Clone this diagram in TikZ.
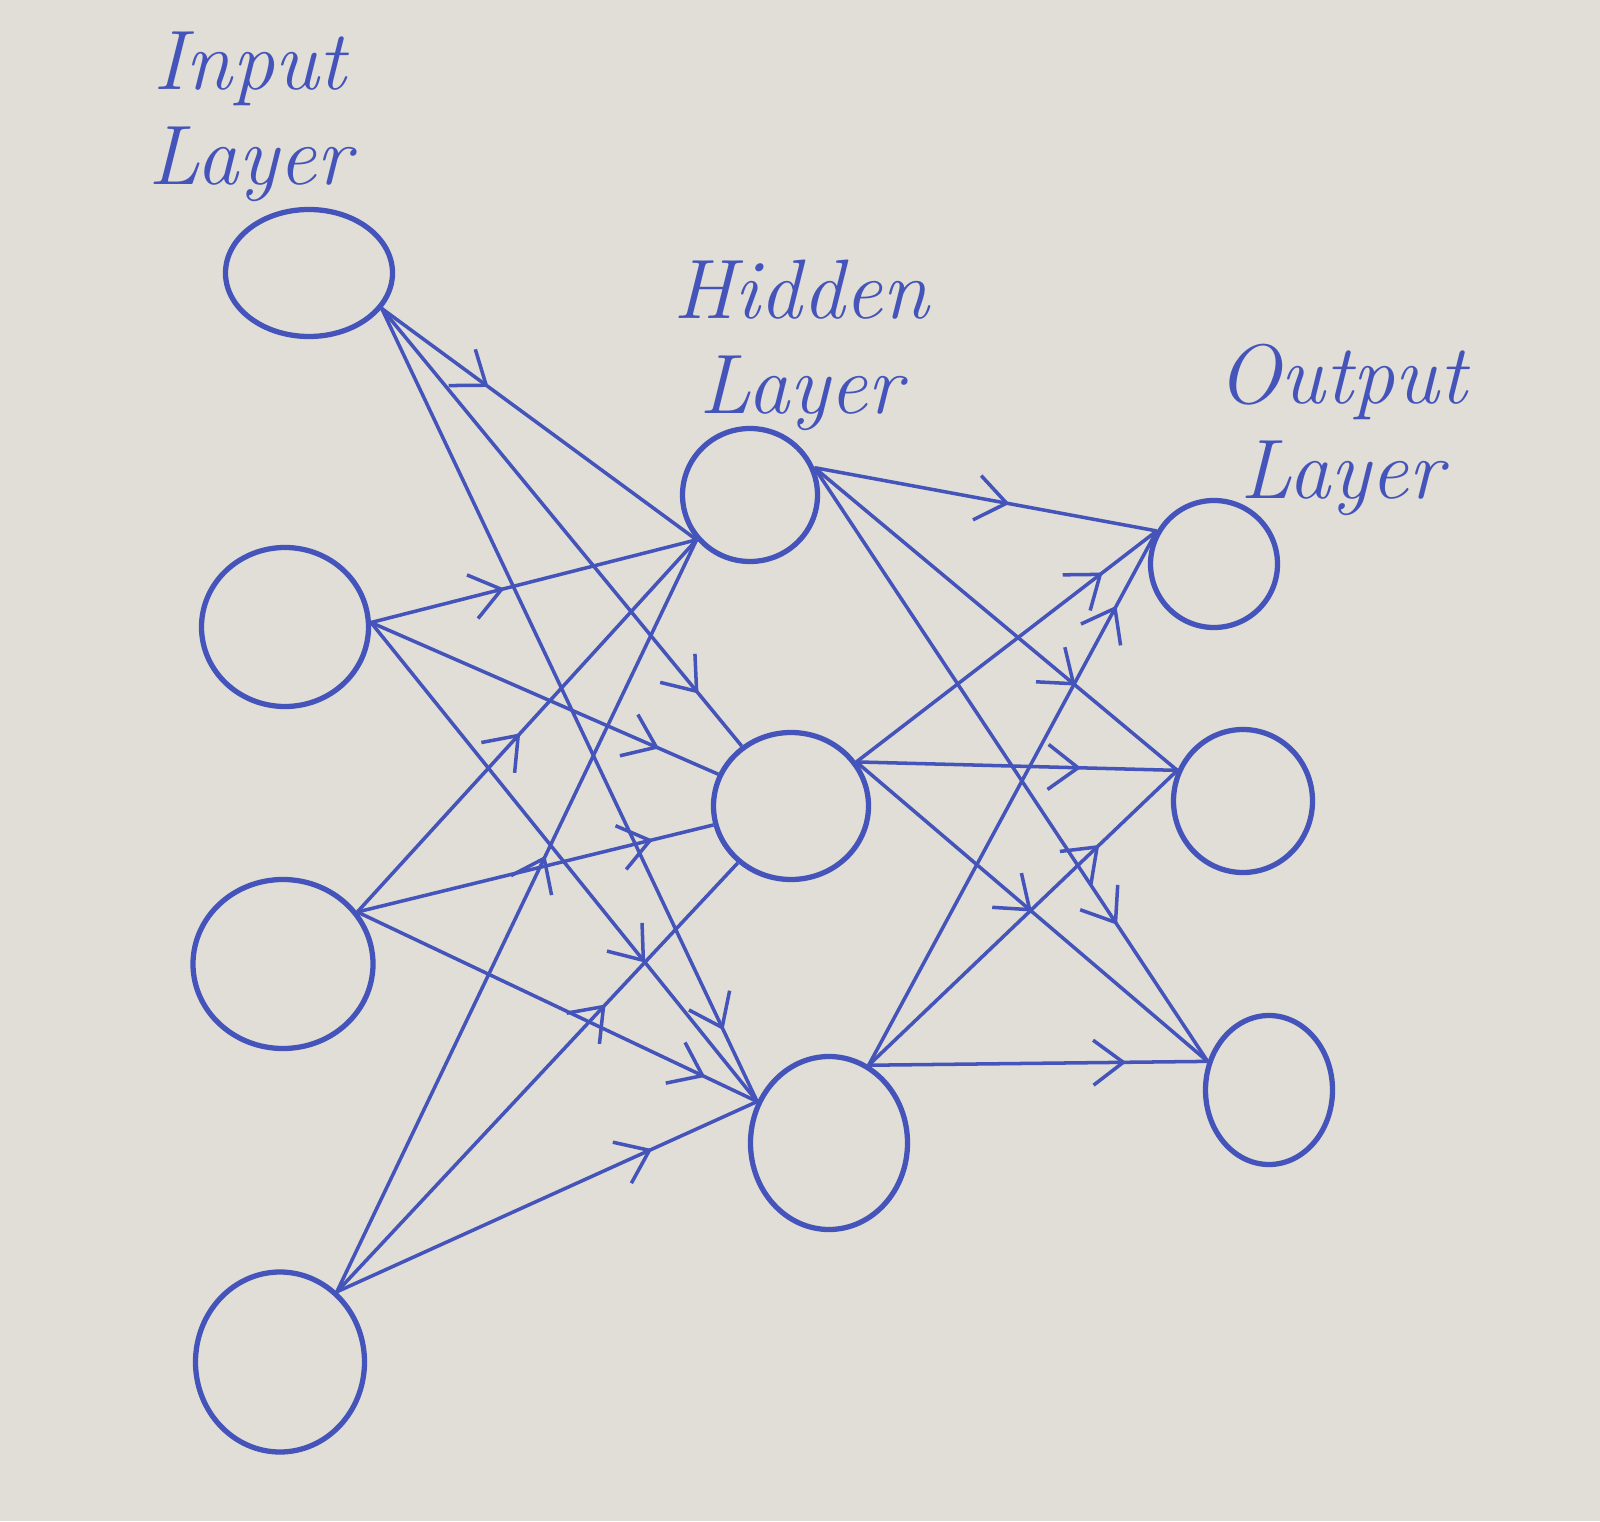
\documentclass[tikz,border=0pt]{standalone}
\usepackage{fontspec}
\usepackage{tikz}
\usetikzlibrary{arrows.meta,decorations.markings,shapes.geometric}
\usetikzlibrary{positioning}
\definecolor{ink}{RGB}{68,84,186}
\definecolor{paper}{RGB}{224,222,214}
\tikzset{
    neuron/.style 2 args={
           ellipse,
           draw=ink, line width=1.5pt,
           minimum width=#1,
           minimum height=#2,
           inner sep=0pt},
    wire/.style={
           draw=ink, line width=1pt,
           postaction={decorate},
           decoration={markings,
             mark=at position #1 with {\arrow{Straight Barb[length=3mm,width=4.5mm]}}}},
    wire/.default=0.5,
    layerlabel/.style={
           text=ink, align=center,
           font=\fontsize{24}{27}\selectfont\itshape},
}

\begin{document}
\begin{tikzpicture}

 \fill[paper] (0,0) rectangle (16.0,-15.214);
 \useasboundingbox (0,0) rectangle (16.0,-15.214);

 % input layer
 \node[neuron={1.67cm}{1.27cm}] (IN1) at (3.09,-2.73) {};
 \node[neuron={1.67cm}{1.59cm},
 below of=IN1,
 node distance=3.54cm,
 xshift=-0.24cm] (IN2) {};
 \node[neuron={1.80cm}{1.69cm},
 below of=IN2,
 node distance=3.37cm,
 xshift=-0.02cm] (IN3) {};
 \node[neuron={1.69cm}{1.80cm},
 below of=IN3,
 node distance=3.98cm,
 xshift=-0.03cm] (IN4) {};

 % hidden layer
 \node[neuron={1.35cm}{1.33cm}] (HID1) at (7.50,-4.95) {};
 \node[neuron={1.55cm}{1.47cm},
 below of=HID1,
 node distance=3.11cm,
 xshift=0.41cm] (HID2) {};
 \node[neuron={1.57cm}{1.73cm},
 below of=HID2,
 node distance=3.37cm,
 xshift=0.38cm] (HID3) {};

 % output layer
 \node[neuron={1.27cm}{1.27cm}] (OUT1) at (12.14,-5.64) {};
 \node[neuron={1.39cm}{1.43cm},
 below of=OUT1,
 node distance=2.37cm,
 xshift=0.29cm] (OUT2) {};
 \node[neuron={1.27cm}{1.49cm},
 below of=OUT2,
 node distance=2.89cm,
 xshift=0.26cm] (OUT3) {};

 % labels
 \node[layerlabel] (INLABEL) at (2.50,-1.17) {Input\\Layer};
 \node[layerlabel] (HIDLABEL) at (8.01,-3.45) {Hidden\\Layer};
 \node[layerlabel] (OUTLABEL) at (13.42,-4.30) {Output\\Layer};

 \path
 (IN1.-26) edge[wire=0.34] (HID1.220)
 (IN1.-26) edge[wire=0.88] (HID2)
 (IN1.-26) edge[wire=0.91] (HID3.150)
 (IN2.3) edge[wire=0.41] (HID1.220)
 (IN2.3) edge[wire=0.83] (HID2)
 (IN2.3) edge[wire=0.71] (HID3.150)
 (IN3.35) edge[wire=0.48] (HID1.220)
 (IN3.35) edge[wire=0.83] (HID2)
 (IN3.35) edge[wire=0.87] (HID3.150)
 (IN4.51) edge[wire=0.58] (HID1.220)
 (IN4.51) edge[wire=0.67] (HID2)
 (IN4.51) edge[wire=0.75] (HID3.150);

 \path
 (HID1.23) edge[wire=0.57] (OUT1.150)
 (HID1.23) edge[wire=0.72] (OUT2.155)
 (HID1.23) edge[wire=0.77] (OUT3.155)
 (HID2.34) edge[wire=0.82] (OUT1.150)
 (HID2.34) edge[wire=0.70] (OUT2.155)
 (HID2.34) edge[wire=0.50] (OUT3.155)
 (HID3.63) edge[wire=0.86] (OUT1.150)
 (HID3.63) edge[wire=0.75] (OUT2.155)
 (HID3.63) edge[wire=0.76] (OUT3.155);

\end{tikzpicture}
\end{document}
